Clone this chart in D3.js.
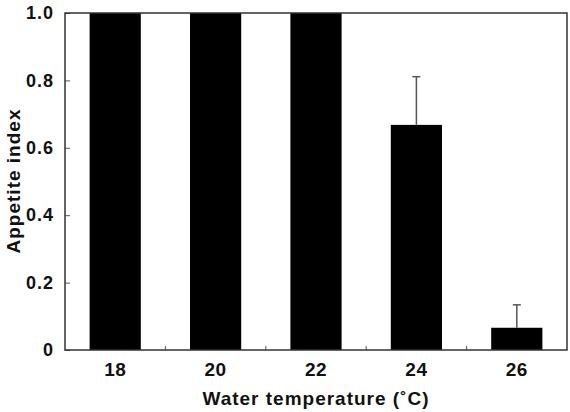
<!DOCTYPE html>
<html>
<head>
  <script src="https://d3js.org/d3.v7.min.js"></script>
  <style>
    body { margin: 0; background: #fff; }
    text { font-family: "Liberation Sans", Arial, sans-serif; font-weight: bold; fill: #111; }
  </style>
</head>
<body>
<div id="chart"></div>
<script>
// data
var temps = ["18", "20", "22", "24", "26"];
var appetite = [1.0, 1.0, 1.0, 0.668, 0.066];
var errors = [0, 0, 0, 0.143, 0.068];
var yTicks = [0, 0.2, 0.4, 0.6, 0.8, 1.0];

var W = 570, H = 412;
var margin = { top: 13, right: 3, bottom: 62, left: 65 };

var svg = d3.select("#chart").append("svg")
  .attr("width", W)
  .attr("height", H);

var x = d3.scaleBand()
  .domain(temps)
  .range([margin.left, W - margin.right])
  .paddingInner(0.49)
  .paddingOuter(0.245);

var y = d3.scaleLinear()
  .domain([0, 1])
  .range([H - margin.bottom, margin.top]);

var rows = temps.map((t, i) => ({ t: t, v: appetite[i], e: errors[i] }));

// bars
svg.selectAll(".bar")
  .data(rows)
  .enter().append("rect")
  .attr("class", "bar")
  .attr("x", d => x(d.t))
  .attr("width", x.bandwidth())
  .attr("y", d => y(d.v))
  .attr("height", d => y(0) - y(d.v))
  .attr("fill", "#000");

// error bars (upper only)
var eb = svg.selectAll(".err")
  .data(rows.filter(d => d.e > 0))
  .enter().append("g")
  .attr("class", "err")
  .attr("stroke", "#555")
  .attr("stroke-width", 1.5);

eb.append("line")
  .attr("x1", d => x(d.t) + x.bandwidth() / 2)
  .attr("x2", d => x(d.t) + x.bandwidth() / 2)
  .attr("y1", d => y(d.v))
  .attr("y2", d => y(d.v + d.e));

eb.append("line")
  .attr("x1", d => x(d.t) + x.bandwidth() / 2 - 4)
  .attr("x2", d => x(d.t) + x.bandwidth() / 2 + 4)
  .attr("y1", d => y(d.v + d.e))
  .attr("y2", d => y(d.v + d.e));

// y axis, ticks pointing inward
var yAxis = svg.append("g")
  .attr("transform", "translate(" + margin.left + ",0)")
  .call(d3.axisLeft(y)
    .tickValues(yTicks)
    .tickSizeInner(-5)
    .tickSizeOuter(0)
    .tickPadding(11)
    .tickFormat(d => d === 0 ? "0" : d3.format(".1f")(d)));
yAxis.select(".domain").remove();
yAxis.selectAll("line").attr("stroke", "#555");
yAxis.selectAll("text")
  .style("font-size", "18px")
  .style("letter-spacing", "1px")
  .style("font-family", "'Liberation Sans', Arial, sans-serif")
  .style("font-weight", "bold")
  .attr("fill", "#111");

// x axis, labels only
var xAxis = svg.append("g")
  .attr("transform", "translate(0," + y(0) + ")")
  .call(d3.axisBottom(x).tickSize(0).tickPadding(13));
xAxis.select(".domain").remove();
xAxis.selectAll("text")
  .style("font-size", "19px")
  .style("letter-spacing", "0.5px")
  .style("font-family", "'Liberation Sans', Arial, sans-serif")
  .style("font-weight", "bold")
  .attr("fill", "#111");

// minor ticks between categories
var gap = x.step() * x.paddingInner() / 2;
svg.selectAll(".minor")
  .data(temps.slice(1))
  .enter().append("line")
  .attr("class", "minor")
  .attr("x1", d => x(d) - gap)
  .attr("x2", d => x(d) - gap)
  .attr("y1", y(0))
  .attr("y2", y(0) - 4)
  .attr("stroke", "#555")
  .attr("stroke-width", 1);

// frame
svg.append("rect")
  .attr("x", margin.left)
  .attr("y", margin.top)
  .attr("width", W - margin.right - margin.left)
  .attr("height", y(0) - margin.top)
  .attr("fill", "none")
  .attr("stroke", "#333")
  .attr("stroke-width", 1.5);

// axis titles
svg.append("text")
  .attr("x", (margin.left + W - margin.right) / 2)
  .attr("y", 405)
  .attr("text-anchor", "middle")
  .style("font-size", "19px")
  .style("letter-spacing", "1px")
  .text("Water temperature (\u02DAC)");

svg.append("text")
  .attr("transform", "translate(20," + 181 + ") rotate(-90)")
  .attr("text-anchor", "middle")
  .style("font-size", "19px")
  .style("letter-spacing", "1px")
  .text("Appetite index");
</script>
</body>
</html>
